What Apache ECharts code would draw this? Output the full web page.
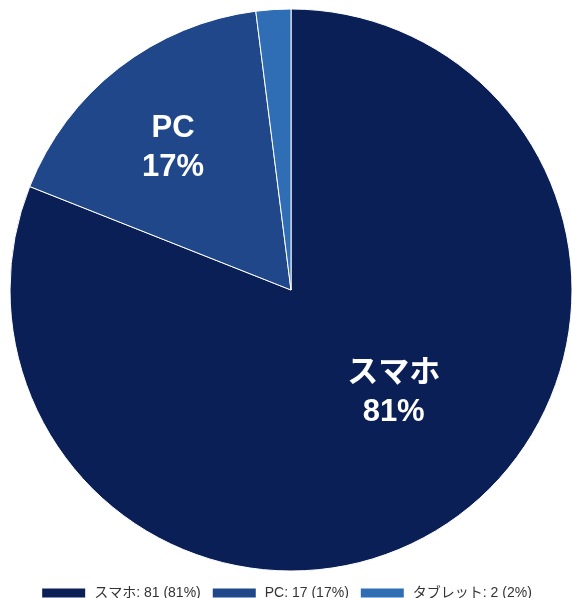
<!DOCTYPE html>
<html><head><meta charset="utf-8">
<script src="https://cdn.jsdelivr.net/npm/echarts@6/dist/echarts.min.js"></script>
<style>html,body{margin:0;padding:0;background:#fff}#c{width:572px;height:598px}</style>
</head><body><div id="c"></div>
<script>
const categories = ['スマホ', 'PC', 'タブレット'];
const values = [81, 17, 2];
const colors = ['#0a1f56', '#1f4789', '#2f6db5'];
const total = values.reduce((a, b) => a + b, 0);
const offsets = [[22, -16], [-30, -29], [0, 0]];
const chart = echarts.init(document.getElementById('c'));
chart.setOption({
  animation: false,
  textStyle: { fontFamily: 'Liberation Sans, "Noto Sans CJK JP", sans-serif' },
  legend: {
    top: 581, left: 'center', itemWidth: 45, itemHeight: 11, itemGap: 10,
    icon: 'rect',
    textStyle: { fontSize: 14, color: '#333', padding: [0, 0, 0, 3], fontFamily: 'Liberation Sans, "Noto Sans CJK JP", sans-serif' },
    formatter: name => {
      const i = categories.indexOf(name);
      return name + ': ' + values[i] + ' (' + Math.round(values[i] / total * 100) + '%)';
    }
  },
  series: [{
    type: 'pie',
    center: [291, 290],
    radius: [0, 281],
    startAngle: 90,
    clockwise: true,
    itemStyle: { borderColor: '#fff', borderWidth: 1 },
    label: {
      show: true, position: 'inside', color: '#fff', fontSize: 31, fontWeight: 'bold',
      lineHeight: 39,
      fontFamily: 'Liberation Sans, "Noto Sans CJK JP", sans-serif',
      formatter: p => p.name + '\n' + Math.round(p.value / total * 100) + '%'
    },
    labelLayout: p => ({ dx: offsets[p.dataIndex][0], dy: offsets[p.dataIndex][1] }),
    data: categories.map((n, i) => ({
      name: n, value: values[i], itemStyle: { color: colors[i] },
      label: i === 2 ? { show: false } : undefined
    }))
  }]
});
</script></body></html>
